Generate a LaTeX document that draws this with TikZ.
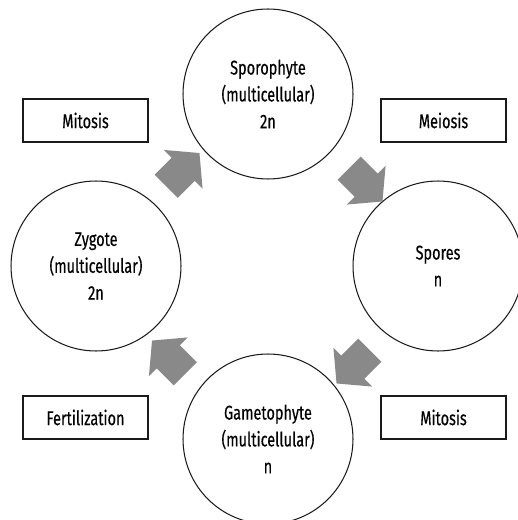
\documentclass[tikz,border=0pt]{standalone}
\usepackage{fontspec}
\setmainfont[FakeStretch=0.73, FakeBold=0.35]{Fira Sans}
\usetikzlibrary{shapes.arrows, positioning, calc}
\definecolor{CycleGray}{HTML}{898989}
\definecolor{CycleBlack}{HTML}{1a1a1a}
\tikzset{
    % stage circles
    stage/.style={
        circle,
        draw=CycleBlack,
        line width=0.6pt,
        minimum size=3.4cm,
        inner sep=0pt,
        align=center,
        font=\fontsize{11.3}{15.3}\selectfont
    },
    % process labels
    process box/.style={
        rectangle,
        draw=CycleBlack,
        line width=0.6pt,
        minimum width=2.5cm,
        minimum height=0.86cm,
        align=center,
        font=\fontsize{11.3}{15.3}\selectfont
    },
    cycle arrow/.style={
        single arrow,
        fill=CycleGray,
        draw=none,
        inner xsep=0pt,
        inner ysep=0.32cm,
        minimum height=0.94cm,
        single arrow head extend=0.22cm,
        single arrow tip angle=100
    }
}
\begin{document}
\begin{tikzpicture}[x=0.02cm, y=-0.02cm]
    \useasboundingbox (0,0) rectangle (517,520);

    \node[stage] (sporo) at (268,94) {Sporophyte\\(multicellular)\\2n};
    \node[stage] (spores) at (438,266) {Spores\\n};
    \node[stage] (gameto) at (268,439) {Gametophyte\\(multicellular)\\n};
    \node[stage] (zygote) at (96,266) {Zygote\\(multicellular)\\2n};

    \node[process box] (mitosisA) at (85.5,120.5) {Mitosis};
    \node[process box] (meiosis) at (443.5,120.5) {Meiosis};
    \node[process box] (fert) at (85.5,417.5) {Fertilization};
    \node[process box] (mitosisB) at (443.5,417.5) {Mitosis};

    \node[cycle arrow, rotate=45] (zy2sp) at (178,174.5) {};
    \node[cycle arrow, rotate=-45] (sp2so) at (361,180) {};
    \node[cycle arrow, rotate=-135] (so2ga) at (358,362) {};
    \node[cycle arrow, rotate=135] (ga2zy) at (173.5,362) {};
\end{tikzpicture}
\end{document}
